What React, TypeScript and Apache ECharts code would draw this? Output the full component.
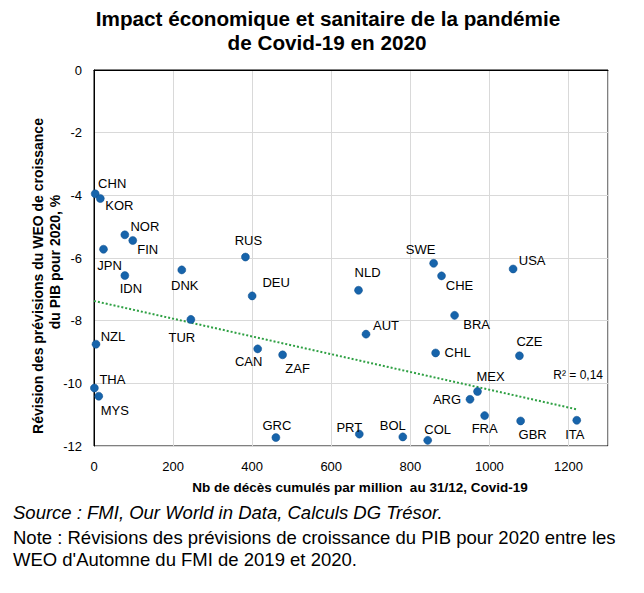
import React, { useEffect, useRef } from "react";
import * as echarts from "echarts";

const countries = ["CHN","KOR","NOR","FIN","JPN","IDN","DNK","RUS","DEU","SWE","CHE","USA","NLD","BRA","AUT","CHL","CZE","TUR","NZL","CAN","ZAF","THA","MYS","GRC","PRT","MEX","ARG","FRA","GBR","ITA","BOL","COL"];
const deaths = [3,16,78,98,24,78,222,383,400,859,879,1060,669,912,688,864,1076,245,5,414,477,1,12,460,671,970,951,988,1079,1221,781,844];
const gdpRevision = [-3.95,-4.10,-5.26,-5.44,-5.72,-6.56,-6.38,-5.97,-7.21,-6.17,-6.57,-6.35,-7.03,-7.83,-8.43,-9.03,-9.12,-7.96,-8.75,-8.90,-9.09,-10.15,-10.41,-11.73,-11.62,-10.26,-10.51,-11.03,-11.20,-11.18,-11.71,-11.82];
const trendX = [0, 1221];
const trendY = [-7.37, -10.83];
const xTicks = [0, 200, 400, 600, 800, 1000, 1200];

// label offsets (px) relative to each point, kept apart from data
const labelOffsets: Record<string, [number, number]> = {
  CHN: [17, -10], KOR: [19, 7], NOR: [20, -8], FIN: [15, 9], JPN: [6, 16], IDN: [6, 13],
  DNK: [3, 16], RUS: [3, -17], DEU: [24, -13], SWE: [-13, -14], CHE: [18, 10], USA: [19, -8],
  NLD: [9, -18], BRA: [22, 9], AUT: [20, -9], CHL: [22, 0], CZE: [10, -14], TUR: [-9, 18],
  NZL: [17, -8], CAN: [-9, 13], ZAF: [15, 14], THA: [18, -9], MYS: [16, 14], GRC: [1, -12],
  PRT: [-10, -7], MEX: [13, -15], ARG: [-23, 0], FRA: [0, 13], GBR: [12, 14], ITA: [-2, 14],
  BOL: [-10, -11], COL: [10, -11],
};

const FONT = "'Liberation Sans', Arial, sans-serif";

export default function App() {
  const ref = useRef<HTMLDivElement>(null);
  useEffect(() => {
    if (!ref.current) return;
    const chart = echarts.init(ref.current, null, { renderer: "svg" });
    const scatterData = countries.map((c, i) => ({
      value: [deaths[i], gdpRevision[i]],
      name: c,
      label: {
        show: true,
        position: "inside",
        offset: labelOffsets[c],
        formatter: c,
        color: "#000",
        fontSize: 13,
        fontFamily: FONT,
      },
    }));
    chart.setOption({
      animation: false,
      backgroundColor: "#fff",
      grid: { left: 94, top: 70, width: 514, height: 376, show: true, borderColor: "#000", borderWidth: 1, backgroundColor: "transparent" },
      xAxis: {
        type: "value",
        min: 0,
        max: 1300,
        interval: 200,
        axisLine: { show: true, lineStyle: { color: "#000" } },
        axisTick: { show: false },
        splitLine: { show: true, lineStyle: { color: "#d9d9d9" } },
        axisLabel: {
          color: "#000", fontSize: 13, fontFamily: FONT, margin: 14,
          formatter: (v: number) => (xTicks.includes(v) ? String(v) : ""),
        },
      },
      yAxis: {
        type: "value",
        min: -12,
        max: 0,
        interval: 2,
        axisLine: { show: true, lineStyle: { color: "#000" } },
        axisTick: { show: false },
        splitLine: { show: true, lineStyle: { color: "#d9d9d9" } },
        axisLabel: { color: "#000", fontSize: 13, fontFamily: FONT, margin: 12 },
      },
      graphic: [
        { type: "text", x: 328, y: 18, style: { text: "Impact économique et sanitaire de la pandémie", font: `bold 20.7px ${FONT}`, fill: "#000", align: "center", verticalAlign: "middle" } },
        { type: "text", x: 327, y: 42, style: { text: "de Covid-19 en 2020", font: `bold 20.7px ${FONT}`, fill: "#000", align: "center", verticalAlign: "middle" } },
        { type: "text", x: 38, y: 276, rotation: Math.PI / 2, style: { text: "Révision des prévisions du WEO de croissance", font: `bold 14px ${FONT}`, fill: "#000", align: "center", verticalAlign: "middle" } },
        { type: "text", x: 55, y: 262, rotation: Math.PI / 2, style: { text: "du PIB pour 2020, %", font: `bold 14px ${FONT}`, fill: "#000", align: "center", verticalAlign: "middle" } },
        { type: "text", x: 360, y: 487, style: { text: "Nb de décès cumulés par million  au 31/12, Covid-19", font: `bold 13.5px ${FONT}`, fill: "#000", align: "center", verticalAlign: "middle" } },
        { type: "text", x: 603, y: 375, style: { text: "R² = 0,14", font: `12px ${FONT}`, fill: "#000", align: "right", verticalAlign: "middle" } },
        { type: "text", x: 13, y: 512, style: { text: "Source : FMI, Our World in Data, Calculs DG Trésor.", font: `italic 18.5px ${FONT}`, fill: "#000", align: "left", verticalAlign: "middle" } },
        { type: "text", x: 13, y: 537, style: { text: "Note : Révisions des prévisions de croissance du PIB pour 2020 entre les", font: `18.5px ${FONT}`, fill: "#000", align: "left", verticalAlign: "middle" } },
        { type: "text", x: 13, y: 559, style: { text: "WEO d'Automne du FMI de 2019 et 2020.", font: `18.5px ${FONT}`, fill: "#000", align: "left", verticalAlign: "middle" } },
      ],
      series: [
        {
          type: "line",
          data: trendX.map((x, i) => [x, trendY[i]]),
          showSymbol: false,
          symbol: "none",
          lineStyle: { color: "#2ea043", width: 2, type: [2, 2] },
          z: 1,
          silent: true,
        },
        {
          type: "scatter",
          data: scatterData,
          symbolSize: 8,
          itemStyle: { color: "#1764ab", borderColor: "#0f4f8c", borderWidth: 0.5, opacity: 1 },
          z: 3,
        },
      ],
    });
    return () => chart.dispose();
  }, []);
  return <div ref={ref} style={{ width: 644, height: 593, position: "absolute", left: 0, top: 0 }} />;
}
